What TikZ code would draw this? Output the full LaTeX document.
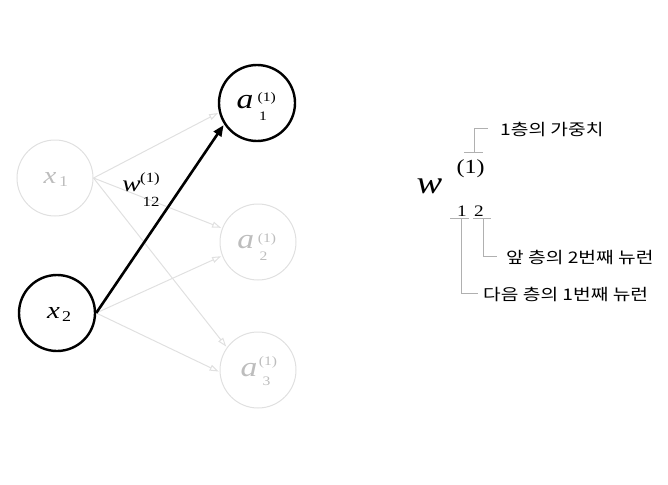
\documentclass[tikz,border=0pt]{standalone}
\usepackage{fontspec}
\setmainfont[FakeStretch=1.2]{Liberation Serif}
\newfontfamily\kr[FakeStretch=1.2]{Noto Sans CJK KR}
\usetikzlibrary{arrows.meta}
\definecolor{lightc}{HTML}{E0E0E0}
\definecolor{lightt}{HTML}{BDBDBD}
\definecolor{brkc}{HTML}{B0B0B0}
\newcommand{\fsz}[1]{\fontsize{#1}{#1}\selectfont}
\begin{document}
\begin{tikzpicture}[x=1pt,y=-1pt,
  neuron/.style={circle, minimum size=76pt, inner sep=0pt},
  act/.style={neuron, draw=black, line width=2.4pt},
  dim/.style={neuron, draw=lightc, line width=1pt},
  lab/.style={inner sep=0pt, anchor=base},
  dimt/.style={lab, text=lightt},
  dimarrow/.style={draw=lightc, line width=1pt, shorten >=1pt, -{Triangle[open,length=9pt,width=6pt]}},
  mainarrow/.style={draw=black, line width=2.6pt, shorten >=1pt, -{Triangle[length=11pt,width=9pt]}},
  brk/.style={draw=brkc, line width=1pt},
  kt/.style={font=\kr\fsz{16}, anchor=west, inner sep=0pt}
]
\useasboundingbox (0,0) rectangle (668,484);

% neurons
\node[dim] (x1) at (55,178) {};
\node[act] (x2) at (57,313) {};
\node[act] (a1) at (257,103) {};
\node[dim] (a2) at (258,242) {};
\node[dim] (a3) at (258,370) {};

% neuron labels
\node[dimt, font=\fsz{24}\itshape] (x1v) at (50,183.3) {x};
\node[dimt, font=\fsz{15}] (x1s) at (63.5,186) {1};
\node[lab, font=\fsz{24}\itshape] (x2v) at (53.5,318.3) {x};
\node[lab, font=\fsz{15}] (x2s) at (66.5,321.7) {2};

\node[lab, font=\fsz{28}\itshape] (a1v) at (245,108.3) {a};
\node[lab, font=\fsz{13}] (a1p) at (266.7,102) {(1)};
\node[lab, font=\fsz{13}] (a1s) at (263,120.5) {1};

\node[dimt, font=\fsz{28}\itshape] (a2v) at (245.8,248.3) {a};
\node[dimt, font=\fsz{13}] (a2p) at (267,242) {(1)};
\node[dimt, font=\fsz{13}] (a2s) at (263.5,260) {2};

\node[dimt, font=\fsz{28}\itshape] (a3v) at (249,376) {a};
\node[dimt, font=\fsz{13}] (a3p) at (268,365.3) {(1)};
\node[dimt, font=\fsz{13}] (a3s) at (266.5,385.5) {3};

% light connections
\draw[dimarrow] (x1.east) -- (a1.194);
\draw[dimarrow] (x1.east) -- (a2.159);
\draw[dimarrow] (x1.east) -- (a3.144);
\draw[dimarrow] (x2.east) -- (a2.201);
\draw[dimarrow] (x2.east) -- (a3.183);

% highlighted connection
\draw[mainarrow] (x2.east) -- (a1.213);

% weight label
\node[lab, font=\fsz{23}\itshape] (wv) at (131.7,191.7) {w};
\node[lab, font=\fsz{14}] (wp) at (150,182) {(1)};
\node[lab, font=\fsz{14}] (ws) at (151,206.7) {12};

% notation explanation
\node[lab, font=\fsz{32}\itshape] (W) at (429.5,193) {w};
\node[lab, font=\fsz{20}] (sup) at (470.5,173) {(1)};
\node[lab, font=\fsz{16}] (s1) at (462,216.5) {1};
\node[lab, font=\fsz{16}] (s2) at (479,216.5) {2};

\node[kt] (k1) at (500,129) {1층의 가중치};
\node[kt] (k2) at (506,257) {앞 층의 2번째 뉴런};
\node[kt] (k3) at (483,294) {다음 층의 1번째 뉴런};

% brackets
\coordinate (tl) at (464,152);
\coordinate (tr) at (483,152);
\coordinate (tm) at (474,152);
\coordinate (te) at (488,128);
\draw[brk] (tl) -- (tr);
\draw[brk] (tm) |- (te);

\coordinate (al) at (450,218);
\coordinate (ar) at (469,218);
\coordinate (am) at (461,218);
\coordinate (ae) at (478,293);
\draw[brk] (al) -- (ar);
\draw[brk] (am) |- (ae);

\coordinate (bl) at (473,218);
\coordinate (br) at (491,218);
\coordinate (bm) at (483,218);
\coordinate (be) at (497,256);
\draw[brk] (bl) -- (br);
\draw[brk] (bm) |- (be);
\end{tikzpicture}
\end{document}
